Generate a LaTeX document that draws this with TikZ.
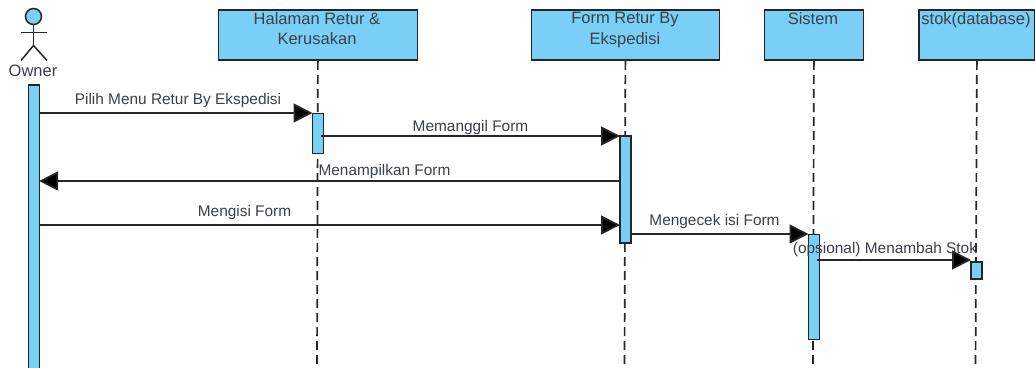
\documentclass[tikz,border=0pt]{standalone}
\usepackage{fontspec}
\setmainfont{Liberation Sans}
\usetikzlibrary{arrows.meta}
\definecolor{fillblue}{HTML}{7ACFF6}
\definecolor{inkc}{HTML}{262626}
\definecolor{textc}{HTML}{3A4048}
\tikzset{
  x=1pt,y=-1pt,
  headbox/.style={draw=inkc,line width=1.8pt,fill=fillblue,anchor=north west,inner sep=0pt,minimum height=50pt},
  headtext/.style={text=textc,font=\fontsize{16.5}{20.5}\selectfont,align=center,anchor=north,inner sep=0pt},
  bar/.style={draw=inkc,line width=1.6pt,fill=fillblue,anchor=north west,inner sep=0pt,minimum width=11pt},
  life/.style={draw=inkc,line width=1.7pt,dash pattern=on 9pt off 5pt},
  msg/.style={draw=inkc,line width=1.8pt,-{Triangle[length=19pt,width=19pt,fill=black]},shorten >=-1pt},
  msglabel/.style={text=textc,font=\fontsize{15.4}{18}\selectfont,inner sep=0pt},
  ownerlabel/.style={text=textc,font=\fontsize{16.5}{18}\selectfont,inner sep=0pt},
  stick/.style={draw=inkc,line width=1.5pt}
}
\begin{document}
\begin{tikzpicture}
\useasboundingbox (0,0) rectangle (1035,367);
% heads
\node[headbox,minimum width=199pt] (hal) at (217.5,9.4) {};
\node[headbox,minimum width=188pt] (frm) at (530.5,9.4) {};
\node[headbox,minimum width=99pt] (sis) at (763.5,9.4) {};
\node[headbox,minimum width=116pt] (stk) at (918,9.4) {};
\node[headtext] (halt) at (317,12) {Halaman Retur \&\\Kerusakan};
\node[headtext] (frmt) at (625,12) {Form Retur By\\Ekspedisi};
\node[headtext] (sist) at (813,12) {Sistem};
\node[headtext] (stkt) at (976,12) {stok(database)};
% lifeline ends
\coordinate (halend) at (317,367);
\coordinate (frmend) at (624.5,367);
\coordinate (sisend) at (813,367);
\coordinate (stkend) at (975.5,367);
\draw[life] (hal.south) -- (halend);
\draw[life] (frm.south) -- (frmend);
\draw[life] (sis.south) -- (sisend);
\draw[life] (stk.south) -- (stkend);
% actor
\node[draw=inkc,line width=1.5pt,fill=fillblue,circle,minimum size=16pt,inner sep=0pt] (head) at (33.5,16.5) {};
\coordinate (armL) at (21,32.5);
\coordinate (armR) at (47,32.5);
\coordinate (hip) at (33.5,45.5);
\coordinate (legL) at (21,60.5);
\coordinate (legR) at (47,60.5);
\draw[stick] (head.south) -- (hip);
\draw[stick] (armL) -- (armR);
\draw[stick] (legL) -- (hip) -- (legR);
\node[ownerlabel] (owner) at (33,71) {Owner};
% activation bars
\node[bar,minimum height=295pt] (b0) at (27.5,84.4) {};
\node[bar,minimum height=40pt] (b1) at (311.5,112.6) {};
\node[bar,minimum height=107pt] (b2) at (619,135.4) {};
\node[bar,minimum height=105pt] (b3) at (807.5,233.6) {};
\node[bar,minimum height=17pt] (b4) at (970,261) {};
% messages
\coordinate (y1) at (0,113);
\coordinate (y2) at (0,136);
\coordinate (y3) at (0,181);
\coordinate (y4) at (0,225);
\coordinate (y5) at (0,234);
\coordinate (y6) at (0,260);
\coordinate (s2) at (321,136);
\coordinate (s6) at (817,260);
\draw[msg] (b0.east |- y1) -- (b1.west |- y1);
\draw[msg] (s2) -- (b2.west |- y2);
\draw[msg] (b2.west |- y3) -- (b0.east |- y3);
\draw[msg] (b0.east |- y4) -- (b2.west |- y4);
\draw[msg] (b2.east |- y5) -- (b3.west |- y5);
\draw[msg] (s6) -- (b4.west |- y6);
% labels
\node[msglabel] (l1) at (178,101) {Pilih Menu Retur By Ekspedisi};
\node[msglabel] (l2) at (470.5,127.5) {Memanggil Form};
\node[msglabel] (l3) at (384.5,172) {Menampilkan Form};
\node[msglabel] (l4) at (244.5,213) {Mengisi Form};
\node[msglabel] (l5) at (714.5,221.5) {Mengecek isi Form};
\node[msglabel] (l6) at (885,250) {(opsional) Menambah Stok};
\end{tikzpicture}
\end{document}
